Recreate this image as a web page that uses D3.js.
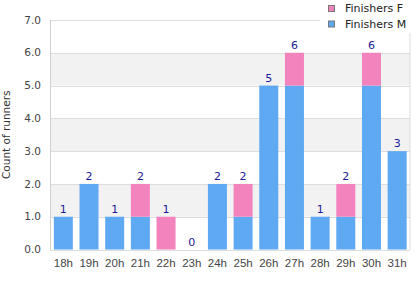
<!DOCTYPE html>
<html><head><meta charset="utf-8">
<script src="https://cdn.jsdelivr.net/npm/d3@7"></script>
<style>body{margin:0;background:#fff}svg{display:block;font-family:"DejaVu Sans",sans-serif}</style>
</head><body><svg id="c" width="420" height="300"></svg>
<script>
const categories=["18h","19h","20h","21h","22h","23h","24h","25h","26h","27h","28h","29h","30h","31h"];
const finishersM=[1,2,1,1,0,0,2,1,5,5,1,1,5,3];
const finishersF=[0,0,0,1,1,0,0,1,0,1,0,1,1,0];
const yTicks=[0,1,2,3,4,5,6,7];
const seriesNames=["Finishers F","Finishers M"];
const colors={M:"#5fa8f2",F:"#f283bc"};

const svg=d3.select("#c");
const L=50.5,R=410,T=20,B=249.5;
const x=d3.scaleBand().domain(categories).range([L,R]).paddingInner(0.26).paddingOuter(0.13);
const y=d3.scaleLinear().domain([0,7]).range([B,T]);

[[1,2],[3,4],[5,6]].forEach(b=>{
  svg.append("rect").attr("x",L).attr("width",R-L).attr("y",y(b[1])).attr("height",y(b[0])-y(b[1])).attr("fill","#f2f2f2");
});
yTicks.forEach(t=>{
  svg.append("line").attr("x1",L).attr("x2",R).attr("y1",Math.round(y(t))+0.5).attr("y2",Math.round(y(t))+0.5)
    .attr("stroke","#dddddd").attr("stroke-width",1);
});
svg.append("line").attr("x1",R).attr("x2",R).attr("y1",T).attr("y2",B).attr("stroke","#dddddd");
svg.append("line").attr("x1",L).attr("x2",L).attr("y1",T).attr("y2",B+0.5).attr("stroke","#d0d0d0");

svg.append("g").selectAll("text").data(yTicks).join("text")
  .attr("x",41).attr("y",d=>y(d)).attr("dy","0.35em").attr("text-anchor","end")
  .attr("font-size",10.5).attr("fill","#444").text(d=>d.toFixed(1));
svg.append("g").selectAll("text").data(categories).join("text")
  .attr("x",d=>x(d)+x.bandwidth()/2).attr("y",267).attr("text-anchor","middle")
  .attr("fill","#444").attr("font-family","Liberation Sans, Arial, sans-serif").attr("font-size",11.5).text(d=>d);
svg.append("text").attr("transform","translate(6.5,"+((T+B)/2)+") rotate(-90)").attr("text-anchor","middle")
  .attr("dy","0.35em").attr("font-size",10.5).attr("fill","#333").text("Count of runners");

const data=categories.map((c,i)=>({c,m:finishersM[i],f:finishersF[i]}));
svg.append("g").selectAll("rect").data(data.filter(d=>d.m>0)).join("rect")
  .attr("x",d=>x(d.c)).attr("width",x.bandwidth()).attr("y",d=>y(d.m)).attr("height",d=>y(0)-y(d.m)).attr("fill",colors.M);
svg.append("g").selectAll("rect").data(data.filter(d=>d.f>0)).join("rect")
  .attr("x",d=>x(d.c)).attr("width",x.bandwidth()).attr("y",d=>y(d.m+d.f)).attr("height",d=>y(d.m)-y(d.m+d.f)).attr("fill",colors.F);
svg.append("g").selectAll("text").data(data).join("text")
  .attr("x",d=>x(d.c)+x.bandwidth()/2).attr("y",d=>y(d.m+d.f)-4).attr("text-anchor","middle")
  .attr("font-size",11).attr("fill","#1a1a96").text(d=>d.m+d.f);

const lg=svg.append("g");
lg.append("rect").attr("x",320).attr("y",0).attr("width",100).attr("height",33).attr("fill","#fff");
seriesNames.forEach((n,i)=>{
  lg.append("rect").attr("x",328.5).attr("y",5.5+i*15.5).attr("width",6).attr("height",6)
    .attr("fill",i===0?colors.F:colors.M).attr("stroke","#777").attr("stroke-width",1);
  lg.append("text").attr("x",345).attr("y",8.5+i*15.5).attr("dy","0.35em").attr("font-size",11).attr("fill","#222").text(n);
});
</script></body></html>
